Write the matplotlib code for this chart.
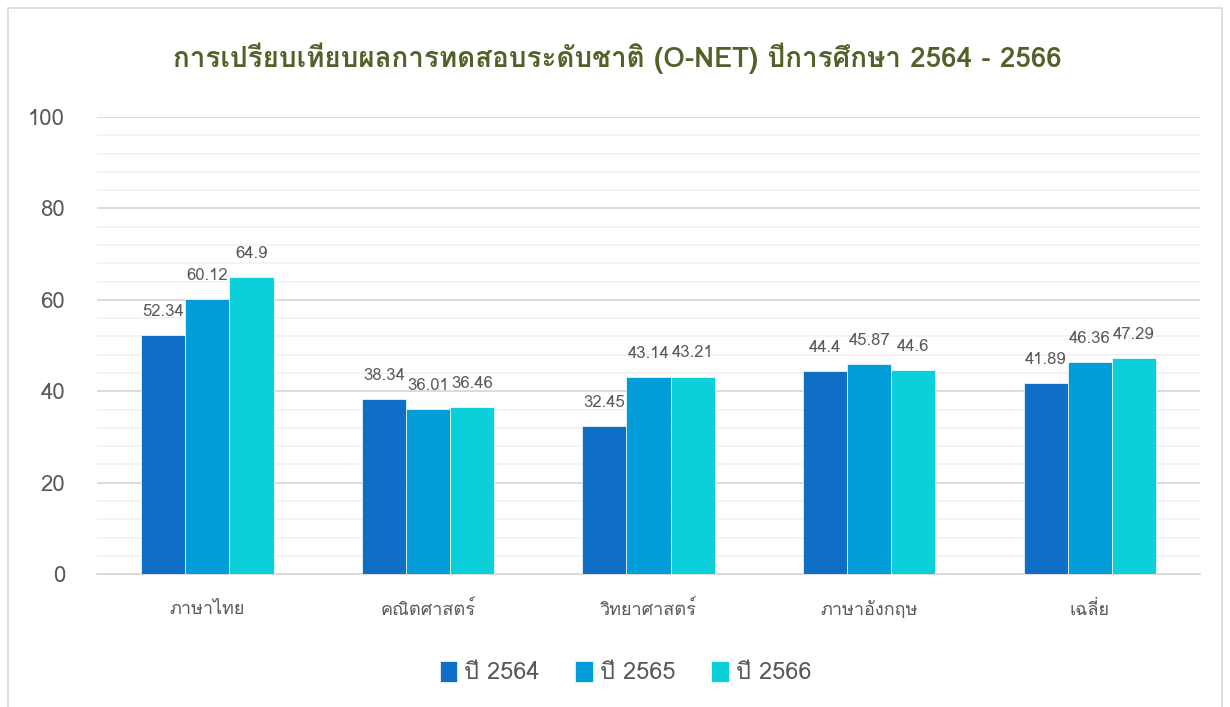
import numpy as np
import matplotlib
matplotlib.use("Agg")
import matplotlib.pyplot as plt
from matplotlib import font_manager
from matplotlib.ft2font import FT2Font
from matplotlib.patches import Rectangle

# data
subjects = ["ภาษาไทย", "คณิตศาสตร์", "วิทยาศาสตร์", "ภาษาอังกฤษ", "เฉลี่ย"]
years = ["ปี 2564", "ปี 2565", "ปี 2566"]
score_2564 = [52.34, 38.34, 32.45, 44.4, 41.89]
score_2565 = [60.12, 36.01, 43.14, 45.87, 46.36]
score_2566 = [64.9, 36.46, 43.21, 44.6, 47.29]
colors = ["#0F6FC6", "#009DD9", "#0BD0D9"]


def find_thai_font():
    # look for any installed font that has Thai glyphs
    for f in font_manager.fontManager.ttflist:
        try:
            cmap = FT2Font(f.fname).get_charmap()
        except Exception:
            continue
        if 0x0E01 in cmap and 0x0E32 in cmap:
            return f.name
    return None


thai = find_thai_font()
families = ([thai] if thai else []) + ["DejaVu Sans"]
plt.rcParams["font.family"] = families

fig = plt.figure(figsize=(12.3, 7.07), dpi=100)
ax = fig.add_axes([0.0789, 0.188, 0.8967, 0.6465])

x = np.arange(len(subjects))
w = 0.2
series = [score_2564, score_2565, score_2566]
for i, vals in enumerate(series):
    bars = ax.bar(x + (i - 1) * w, vals, w, color=colors[i], label=years[i],
                  edgecolor="white", linewidth=0.5, zorder=3)
    for b, v in zip(bars, vals):
        ax.text(b.get_x() + b.get_width() / 2, v + 3.3, f"{v:g}",
                ha="center", va="bottom", fontsize=12, color="#595959")

ax.set_xlim(-0.5, 4.5)
ax.set_ylim(0, 100)
ax.set_yticks(np.arange(0, 101, 20))
ax.set_yticks(np.arange(0, 101, 4), minor=True)
ax.grid(axis="y", which="major", color="#D9D9D9", linewidth=1.3, zorder=0)
ax.grid(axis="y", which="minor", color="#F2F2F2", linewidth=1.3, zorder=0)
ax.set_xticks(x)
ax.set_xticklabels(subjects)
ax.tick_params(axis="x", length=0, pad=19, labelsize=13, labelcolor="#595959")
ax.tick_params(axis="y", which="both", length=0, pad=23, labelsize=16,
               labelcolor="#595959")
for s in ["top", "right", "left"]:
    ax.spines[s].set_visible(False)
ax.spines["bottom"].set_color("#D9D9D9")
ax.spines["bottom"].set_linewidth(1.3)

fig.text(0.502, 0.918, "การเปรียบเทียบผลการทดสอบระดับชาติ (O-NET) ปีการศึกษา 2564 - 2566",
         ha="center", va="center", fontsize=20, fontweight="bold", color="#4F6228")

ax.legend(loc="center", bbox_to_anchor=(0.479, -0.215), ncol=3, frameon=False,
          fontsize=17, labelcolor="#595959", handlelength=0.75, handleheight=1.0,
          columnspacing=1.5, handletextpad=0.3)

fig.patches.append(Rectangle((0.0065, -0.01), 0.987, 0.999, transform=fig.transFigure,
                             fill=False, edgecolor="#D9D9D9", linewidth=1.2))

fig.savefig("out.png", dpi=100)
